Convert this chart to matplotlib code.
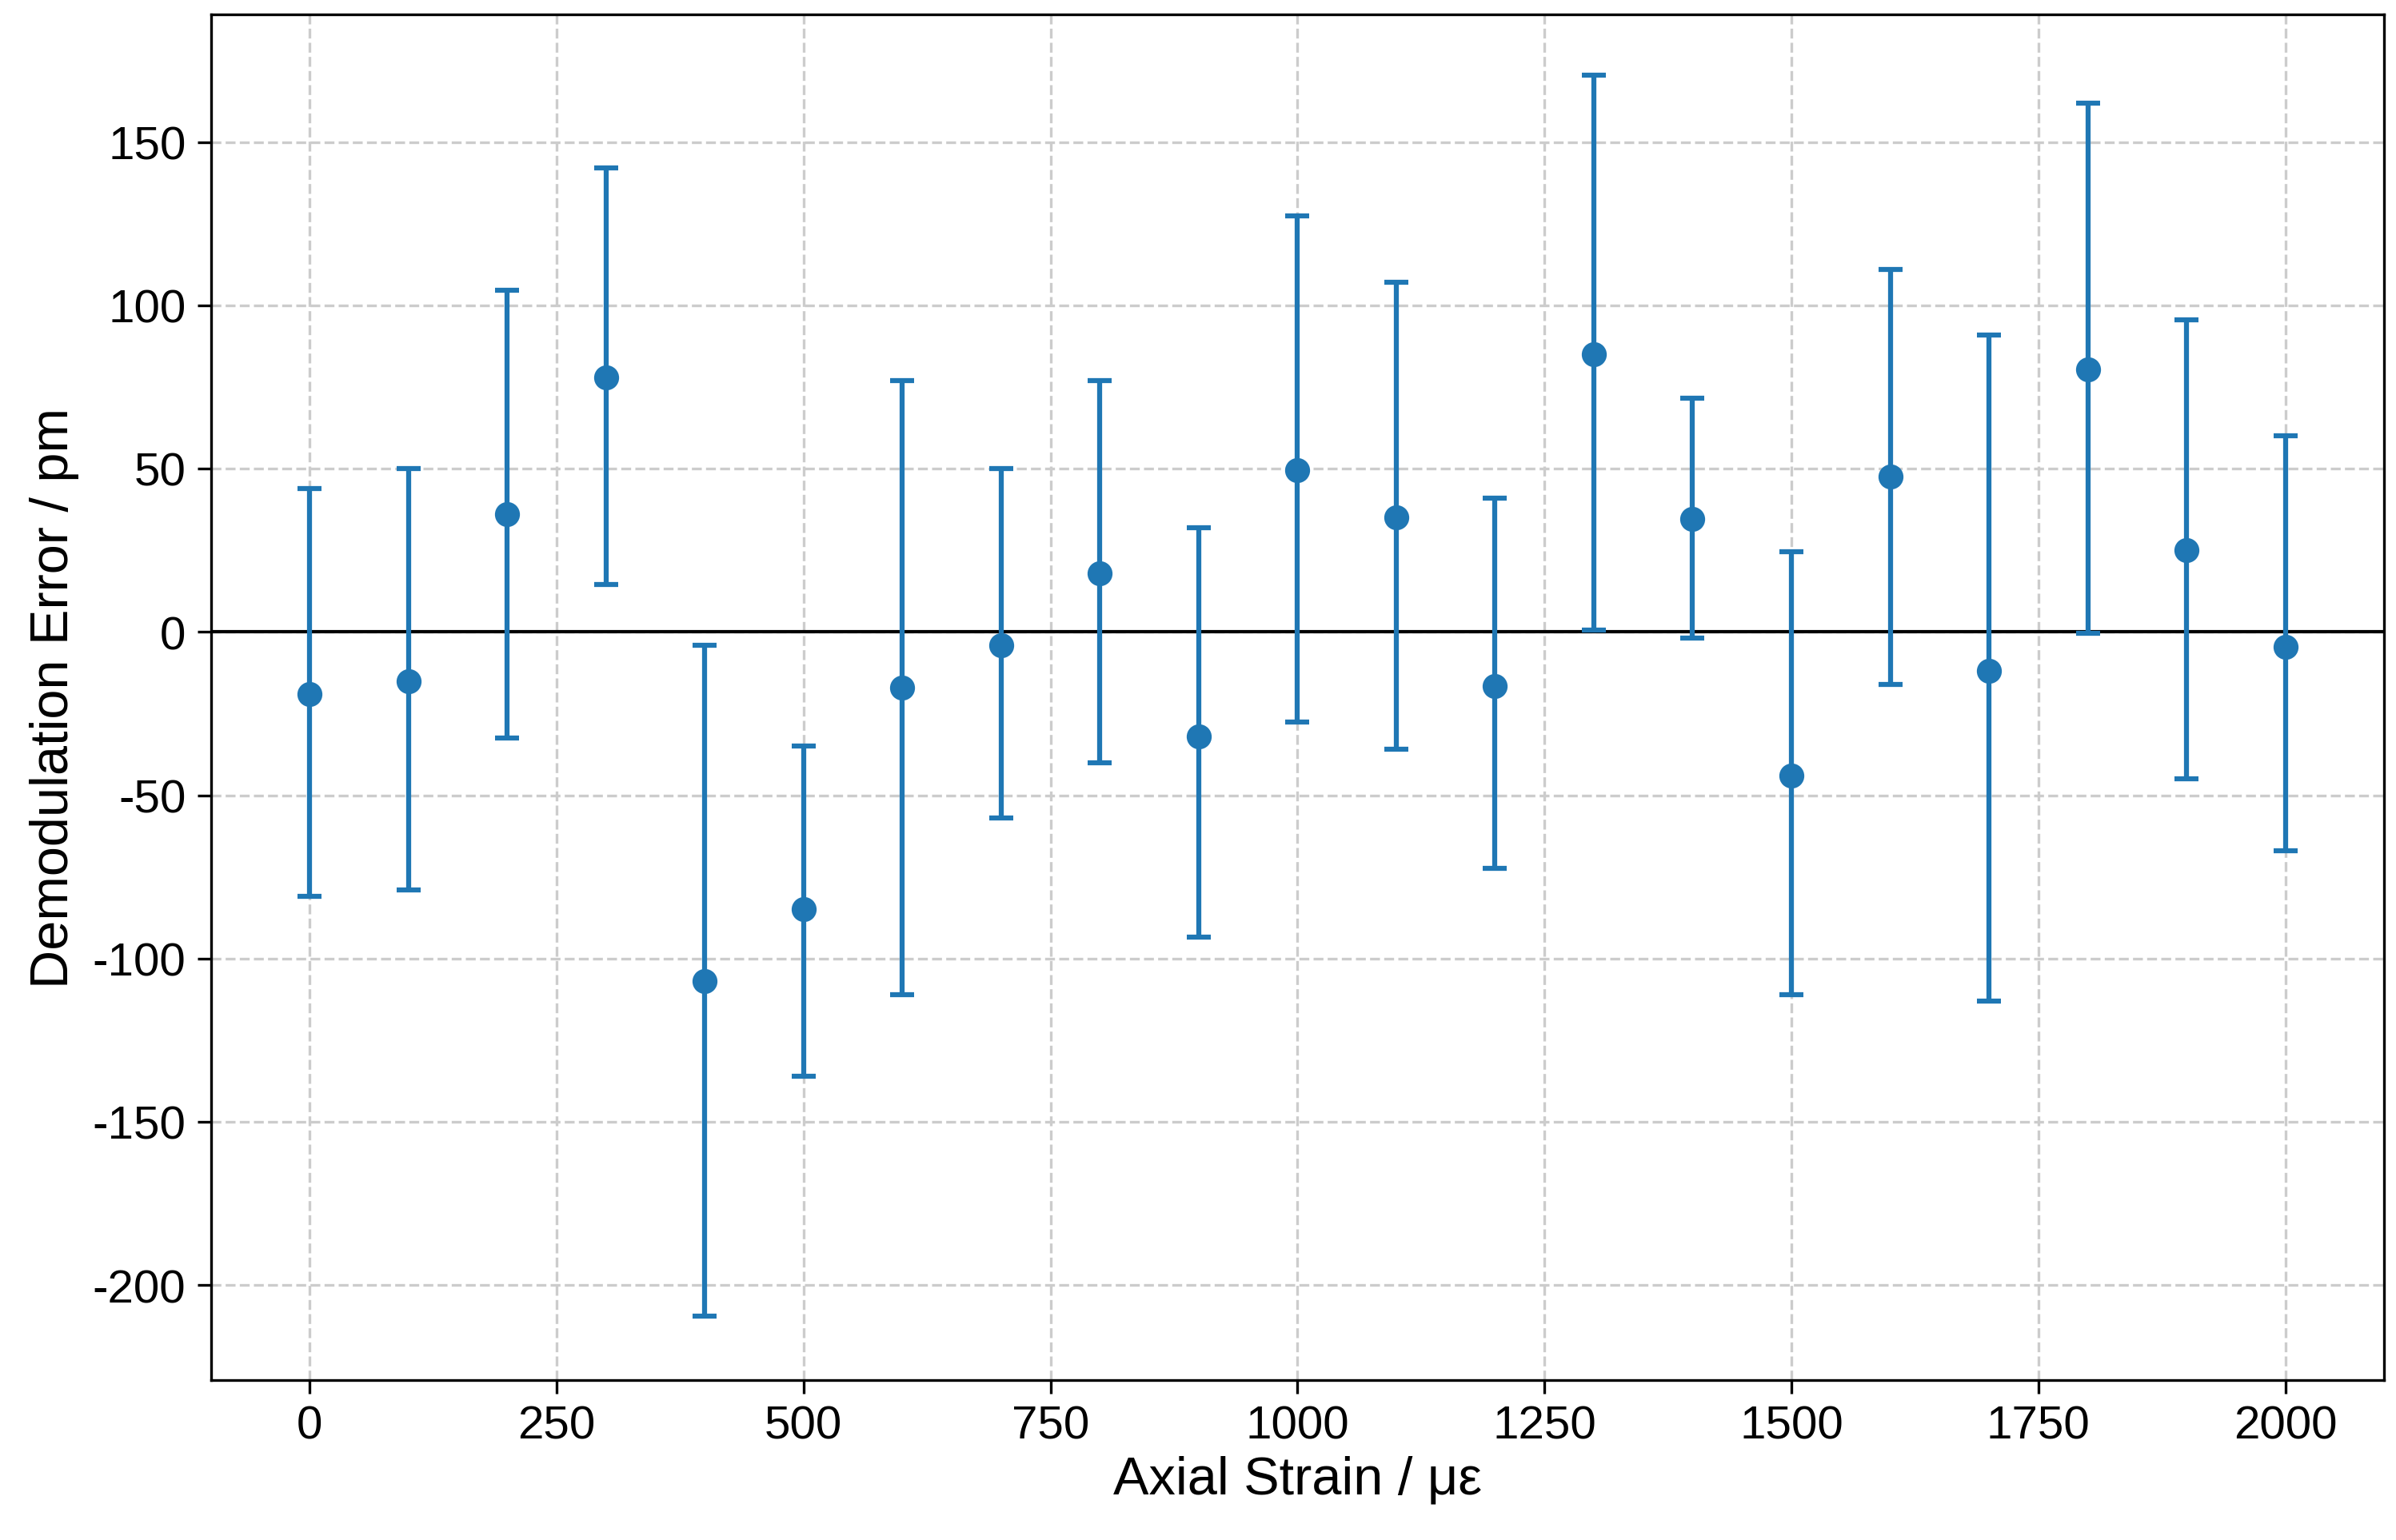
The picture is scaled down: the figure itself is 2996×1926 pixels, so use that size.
import matplotlib
matplotlib.use("Agg")
import matplotlib.pyplot as plt
import numpy as np

plt.rcParams['font.family'] = ['Liberation Sans', 'DejaVu Sans']
plt.rcParams['axes.unicode_minus'] = False

strain = [0, 100, 200, 300, 400, 500, 600, 700, 800, 900, 1000,
          1100, 1200, 1300, 1400, 1500, 1600, 1700, 1800, 1900, 2000]
error = [-19, -15, 36, 78, -107, -85, -17, -4, 18, -32, 49.5,
         35, -16.5, 85, 34.5, -44, 47.5, -12, 80.5, 25, -4.5]
upper = [44, 50, 104.5, 142, -4, -35, 77, 50, 77, 32, 127.5,
         107, 41, 170.5, 71.5, 24.5, 111, 91, 162, 95.5, 60]
lower = [-81, -79, -32.5, 14.5, -209.5, -136, -111, -57, -40, -93.5, -27.5,
         -36, -72.5, 0.5, -2, -111, -16, -113, -0.5, -45, -67]

err = np.array(error)
yerr = [err - np.array(lower), np.array(upper) - err]

fig = plt.figure(figsize=(9.987, 6.423), dpi=300)
ax = fig.add_axes([0.088, 0.104, 0.907, 0.886])

ax.errorbar(strain, error, yerr=yerr, fmt='o', color='#1f77b4',
            ecolor='#1f77b4', elinewidth=1.5, capsize=3.5, capthick=1.5,
            markersize=6.5, zorder=3)
ax.axhline(0, color='black', linewidth=1, zorder=2)

ax.set_xlim(-100, 2100)
ax.set_ylim(-229, 189)
ax.set_xticks([0, 250, 500, 750, 1000, 1250, 1500, 1750, 2000])
ax.set_yticks([-200, -150, -100, -50, 0, 50, 100, 150])
ax.grid(True, linestyle='--', color='#cccccc', linewidth=0.8, zorder=0)
ax.set_axisbelow(True)

ax.tick_params(labelsize=14, length=4)
ax.set_xlabel('Axial Strain / με', fontsize=16, labelpad=2)
ax.set_ylabel('Demodulation Error / pm', fontsize=16, labelpad=4)

fig.savefig('out.png', dpi=300)
